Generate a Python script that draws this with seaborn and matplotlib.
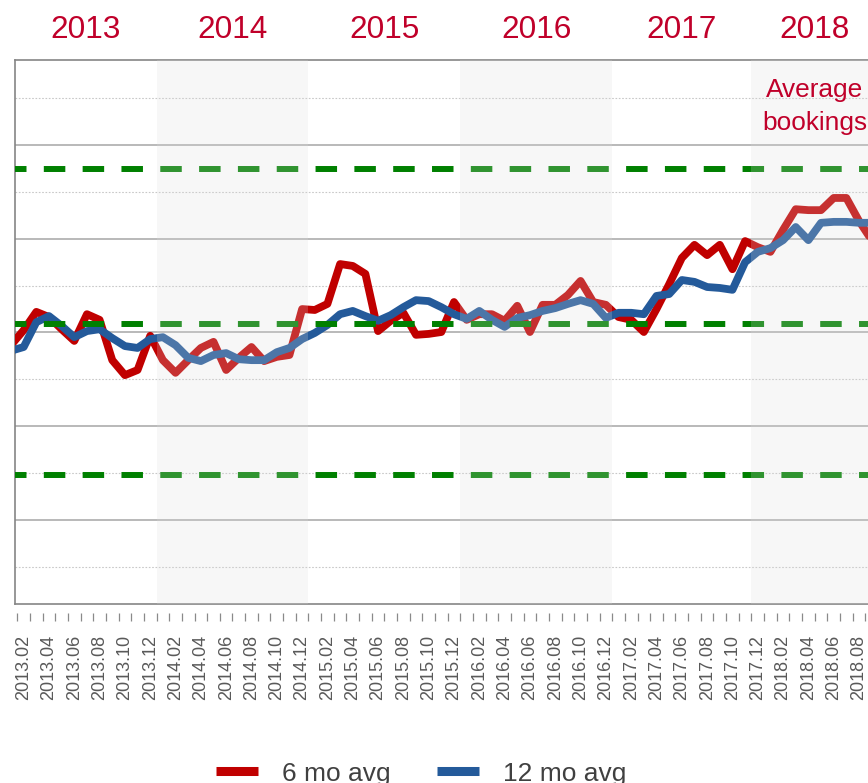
import matplotlib
matplotlib.use('Agg')
import matplotlib.pyplot as plt
import seaborn as sns
import pandas as pd

# ------------------------------------------------------------------
# data (monthly, 2013.01 .. 2018.09)
# ------------------------------------------------------------------
months = [f'{y}.{m:02d}' for y in range(2013, 2019) for m in range(1, 13)][:69]

avg_6mo = [57.3, 60.5, 64.4, 63.3, 60.7, 58.2, 63.9, 62.7, 54.1, 50.9, 52.0, 59.3,
           54.1, 51.4, 54.1, 56.7, 58.0, 52.0, 54.6, 56.9, 53.9, 54.8, 55.2, 65.0,
           64.8, 66.1, 74.6, 74.2, 72.5, 60.3, 62.5, 64.2, 59.5, 59.7, 60.1, 66.5,
           62.7, 63.9, 63.9, 62.5, 65.7, 60.1, 65.9, 65.9, 68.0, 71.0, 66.5, 65.9,
           63.3, 62.7, 60.1, 65.0, 70.3, 75.9, 78.7, 76.5, 78.7, 73.5, 79.5, 78.2,
           77.2, 81.9, 86.3, 86.1, 86.1, 88.7, 88.7, 83.8, 79.7]

avg_12mo = [56.1, 56.9, 62.2, 63.5, 61.4, 59.0, 60.3, 60.7, 58.8, 57.1, 56.7, 58.6,
            59.0, 57.3, 54.6, 53.9, 55.2, 55.6, 54.3, 54.1, 54.1, 55.8, 56.7, 58.6,
            59.9, 61.6, 63.9, 64.6, 63.5, 62.5, 63.7, 65.4, 66.9, 66.7, 65.4, 63.9,
            62.9, 64.6, 62.7, 61.2, 63.1, 63.7, 64.6, 65.2, 66.1, 66.9, 66.1, 63.1,
            64.2, 64.2, 63.9, 67.8, 68.2, 71.2, 70.8, 69.7, 69.5, 69.1, 75.0, 77.2,
            78.0, 79.7, 82.5, 79.7, 83.4, 83.6, 83.6, 83.4, 83.4]

ref_levels = [94.9, 61.8, 29.6]          # green dashed control lines
years = ['2013', '2014', '2015', '2016', '2017', '2018']
series_names = ['6 mo avg', '12 mo avg']

# layout (month index units)
year_centers = [5.9, 17.5, 29.5, 41.5, 53.0, 63.5]
shaded = [(11.5, 23.5), (35.5, 47.5), (58.5, 68.5)]

RED = '#C00000'
BLUE = '#245A9A'
GREEN = '#008000'
TITLE_RED = '#C0002A'

df = pd.DataFrame({
    'k': list(range(len(months))) * 2,
    'value': avg_6mo + avg_12mo,
    'series': [series_names[0]] * len(avg_6mo) + [series_names[1]] * len(avg_12mo),
})

sns.set_theme(style='white')
plt.rcParams['font.family'] = ['Liberation Sans', 'DejaVu Sans']

fig = plt.figure(figsize=(8.68, 7.83), dpi=100)
ax = fig.add_axes([15 / 868, (783 - 604) / 783, (878 - 15) / 868, 544 / 783])

sns.lineplot(data=df, x='k', y='value', hue='series', hue_order=series_names,
             palette={series_names[0]: RED, series_names[1]: BLUE},
             linewidth=5.6, ax=ax, zorder=3)

# green reference lines
for lvl in ref_levels:
    ax.hlines(lvl, -0.5, 68.5, colors=GREEN, linewidth=4.3,
              linestyles=(0, (3.6, 2.9)), zorder=4)

# shaded year bands (drawn on top, slightly washing out the lines)
for a, b in shaded:
    ax.axvspan(a, b, color='#dcdcdc', alpha=0.22, lw=0, zorder=5)

ax.set_xlim(0.316, 68.5)
ax.set_ylim(2.08, 118.13)

# y grid only
ax.set_yticks([20, 40, 60, 80, 100])
ax.set_yticks([10, 30, 50, 70, 90, 110], minor=True)
ax.set_yticklabels([])
ax.tick_params(axis='y', which='both', length=0, labelleft=False)
ax.grid(which='major', axis='y', color='#a6a6a6', linewidth=1.1, linestyle='-')
ax.grid(which='minor', axis='y', color='#c8c8c8', linewidth=0.8, linestyle=(0, (1.5, 1.5)))
ax.grid(axis='x', visible=False)
ax.set_axisbelow(True)

for side in ['left', 'top', 'bottom']:
    ax.spines[side].set_color('#858585')
    ax.spines[side].set_linewidth(1.2)
ax.spines['right'].set_visible(False)

# x axis: hide main ticks, use a detached secondary axis for ticks + labels
ax.set_xticks([])
ax.set_xlabel('')
ax.set_ylabel('')
sec = ax.secondary_xaxis(-9 / 544)
sec.spines['bottom'].set_visible(False)
label_pos = list(range(1, len(months), 2))
sec.set_xticks(label_pos)
sec.set_xticklabels([months[i] for i in label_pos], rotation=90,
                    fontsize=13, color='#595959')
sec.set_xticks([i + 0.5 for i in range(len(months) - 1)], minor=True)
sec.tick_params(axis='x', which='major', length=0, pad=15.8)
sec.tick_params(axis='x', which='minor', length=5.8, width=0.9, color='#8a8a8a',
                direction='out')

# year headers
for yc, yr in zip(year_centers, years):
    ax.text(yc, 1.0404, yr, transform=ax.get_xaxis_transform(),
            ha='center', va='baseline', fontsize=22.7, color=TITLE_RED)

ax.text(63.5, 103.2, 'Average\nbookings', ha='center', va='baseline',
        multialignment='center', linespacing=1.45,
        fontsize=18.9, color=TITLE_RED, zorder=6)

# legend at the bottom
handles, labels = ax.get_legend_handles_labels()
leg = ax.legend(handles, labels, loc='center', bbox_to_anchor=(0.485, 0.012),
                bbox_transform=fig.transFigure, ncol=2, frameon=False,
                fontsize=19, handlelength=1.6, handletextpad=0.9,
                columnspacing=1.75, labelcolor='#404040')
for line in leg.get_lines():
    line.set_linewidth(6.5)
    line.set_solid_capstyle('butt')

fig.savefig('out.png', dpi=100)
